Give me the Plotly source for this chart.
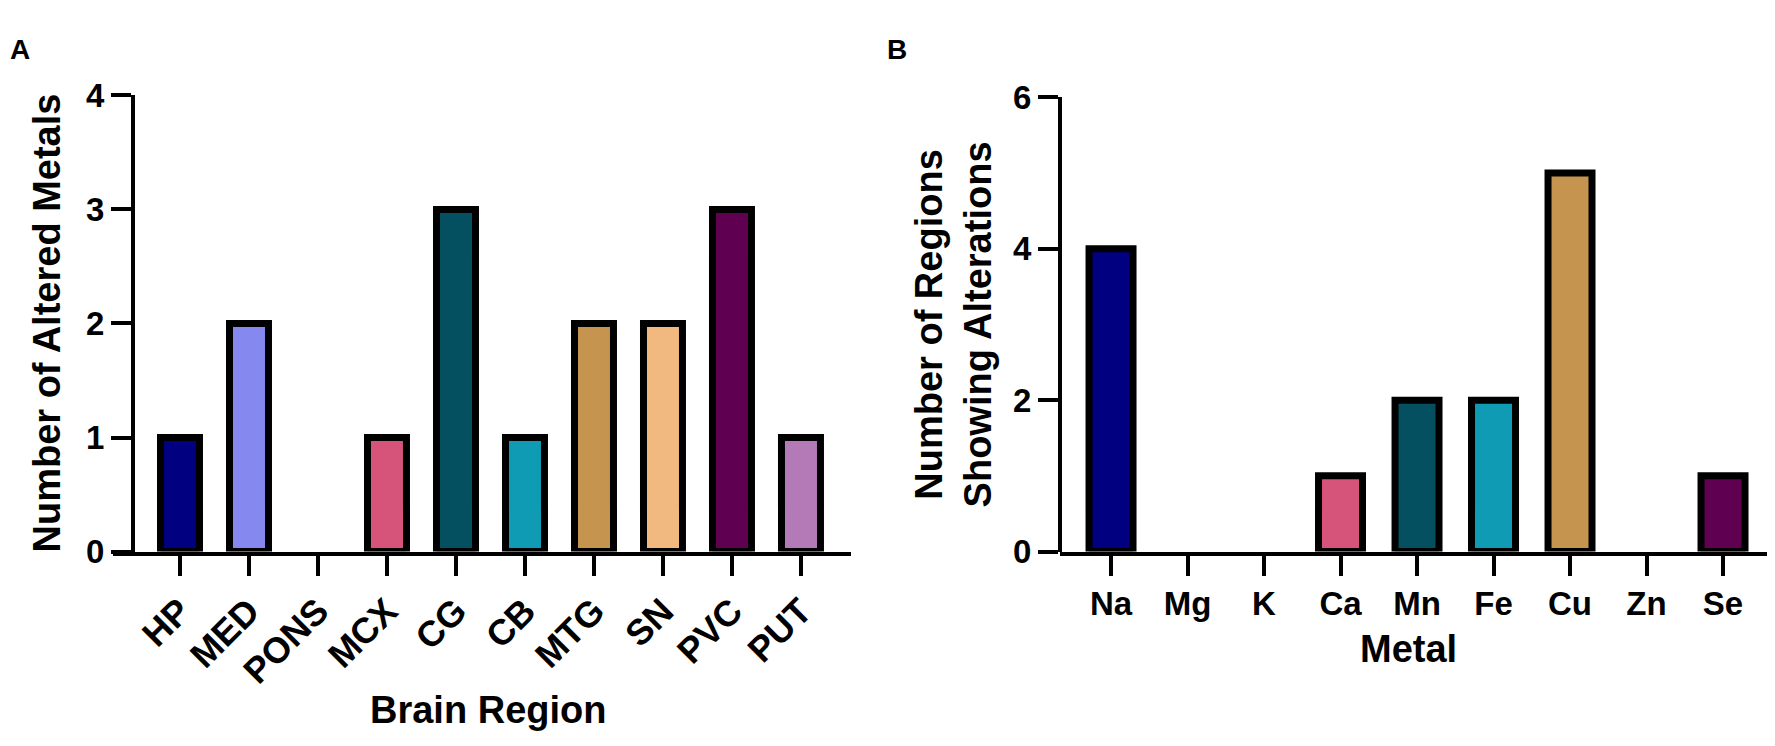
import plotly.graph_objects as go

# --- data ---
regions = ["HP", "MED", "PONS", "MCX", "CG", "CB", "MTG", "SN", "PVC", "PUT"]
altered_metals = [1, 2, 0, 1, 3, 1, 2, 2, 3, 1]

metals = ["Na", "Mg", "K", "Ca", "Mn", "Fe", "Cu", "Zn", "Se"]
regions_altered = [4, 0, 0, 1, 2, 2, 5, 0, 1]

# Prism-like palette, taken in order by both panels
palette = ["#000080", "#8588EE", "#E88FB0", "#D6537A", "#044F60",
           "#109BB5", "#C5944F", "#F1B87F", "#5F0050", "#B47AB8"]

W, H = 1775, 746
FONT = "Liberation Sans, Arial, sans-serif"


def px_x(p):
    return p / W


def px_y(p):
    return 1 - p / H


def outline(vals):
    # no outline for empty bars, otherwise they thicken the axis
    return [0 if v == 0 else 7 for v in vals]


fig = go.Figure()

fig.add_trace(go.Bar(
    x=regions, y=altered_metals, width=0.565,
    marker=dict(color=palette[:len(regions)],
                line=dict(color="black", width=outline(altered_metals))),
    xaxis="x", yaxis="y", cliponaxis=False, showlegend=False
))

fig.add_trace(go.Bar(
    x=metals, y=regions_altered, width=0.575,
    marker=dict(color=palette[:len(metals)],
                line=dict(color="black", width=outline(regions_altered))),
    xaxis="x2", yaxis="y2", cliponaxis=False, showlegend=False
))

axis_common = dict(
    showline=True, linecolor="black", linewidth=4,
    ticks="outside", ticklen=20, tickwidth=4, tickcolor="black",
    showgrid=False, zeroline=False,
    tickfont=dict(family=FONT, size=33, color="black", weight="bold"),
)

y_dom = [px_y(553), px_y(73)]
y_dom_b = [px_y(553), px_y(75)]

fig.update_layout(
    width=W, height=H,
    margin=dict(l=0, r=0, t=0, b=0),
    paper_bgcolor="white", plot_bgcolor="white",
    xaxis=dict(axis_common, domain=[px_x(105), px_x(843)], anchor="y",
               type="category", range=[-0.971, 9.725], tickangle=-45,
               tickfont=dict(family=FONT, size=36, color="black", weight="bold")),
    yaxis=dict(axis_common, domain=y_dom, anchor="free", position=px_x(125),
               range=[0, 4], tickvals=[0, 1, 2, 3, 4]),
    xaxis2=dict(axis_common, domain=[px_x(1052), px_x(1773)], anchor="y2",
                type="category", range=[-0.667, 8.758], tickangle=0),
    yaxis2=dict(axis_common, domain=y_dom_b, anchor="free", position=px_x(1052),
                range=[0, 6], tickvals=[0, 2, 4, 6]),
)

title_font = dict(family=FONT, size=38, color="black", weight="bold")
letter_font = dict(family=FONT, size=28, color="black", weight="bold")

annotations = [
    dict(text="A", x=px_x(0), y=px_y(6), xanchor="left", yanchor="top", font=letter_font),
    dict(text="B", x=px_x(877), y=px_y(6), xanchor="left", yanchor="top", font=letter_font),
    dict(text="Number of Altered Metals", x=px_x(39), y=px_y(313), textangle=-90,
         xanchor="center", yanchor="middle", font=title_font),
    dict(text="Brain Region", x=px_x(480), y=px_y(720),
         xanchor="center", yanchor="middle", font=title_font),
    dict(text="Number of Regions<br>Showing Alterations", x=px_x(945), y=px_y(314),
         textangle=-90, xanchor="center", yanchor="middle", font=title_font),
    dict(text="Metal", x=px_x(1400), y=px_y(655),
         xanchor="center", yanchor="middle", font=title_font),
]
for a in annotations:
    a.update(xref="paper", yref="paper", showarrow=False)
fig.update_layout(annotations=annotations)

fig.write_html("out.html")
